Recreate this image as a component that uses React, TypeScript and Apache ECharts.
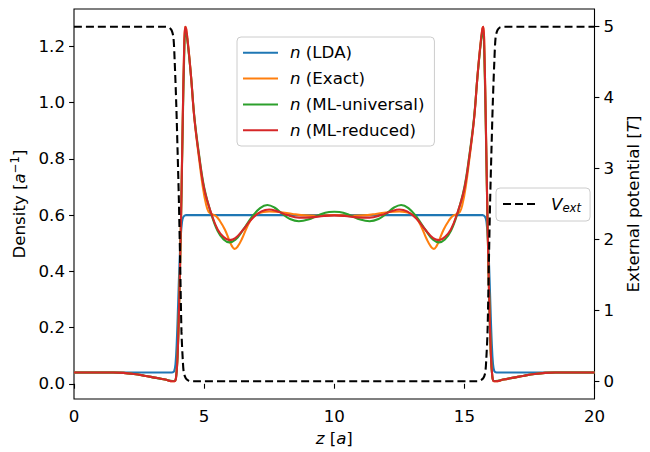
import React, { useEffect, useRef } from 'react';
import * as echarts from 'echarts';

const xTicks = [0, 5, 10, 15, 20];
const densityTicks = [0, 0.2, 0.4, 0.6, 0.8, 1.0, 1.2];
const potentialTicks = [0, 1, 2, 3, 4, 5];

const seriesNames = ['n (LDA)', 'n (Exact)', 'n (ML-universal)', 'n (ML-reduced)'];
const potentialName = 'Vext';

const ldaData = [
  [0, 0.04], [3.7, 0.04], [3.8, 0.041], [3.85, 0.045], [3.9, 0.07], [3.95, 0.15], [4.0, 0.28], [4.05, 0.42],
  [4.1, 0.52], [4.15, 0.575], [4.2, 0.593], [4.3, 0.6], [15.7, 0.6], [15.8, 0.593], [15.85, 0.575], [15.9, 0.52],
  [15.95, 0.42], [16.0, 0.28], [16.05, 0.15], [16.1, 0.07], [16.15, 0.045], [16.2, 0.041], [16.3, 0.04], [20, 0.04],
];

const exactData = [
  [0, 0.04], [1.5, 0.04], [1.9, 0.039], [2.3, 0.035], [2.7, 0.029], [3.1, 0.022], [3.5, 0.015], [3.8, 0.009],
  [3.88, 0.01], [3.93, 0.03], [3.98, 0.1], [4.03, 0.25], [4.08, 0.44], [4.13, 0.68], [4.18, 0.95], [4.23, 1.18],
  [4.27, 1.27], [4.31, 1.262], [4.4, 1.19], [4.5, 1.09], [4.63, 0.94], [4.82, 0.79], [4.95, 0.7], [5.07, 0.64],
  [5.17, 0.612], [5.3, 0.603], [5.45, 0.597], [5.6, 0.58], [5.8, 0.548], [5.97, 0.51], [6.08, 0.488], [6.17, 0.48],
  [6.28, 0.487], [6.45, 0.515], [6.65, 0.558], [6.85, 0.59], [7.1, 0.607], [7.5, 0.613], [7.9, 0.611], [8.4, 0.604],
  [8.9, 0.599], [9.4, 0.598], [10, 0.6], [10.6, 0.598], [11.1, 0.599], [11.6, 0.604], [12.1, 0.611], [12.5, 0.613],
  [12.9, 0.607], [13.15, 0.59], [13.35, 0.558], [13.55, 0.515], [13.72, 0.487], [13.83, 0.48], [13.92, 0.488],
  [14.03, 0.51], [14.2, 0.548], [14.4, 0.58], [14.55, 0.597], [14.7, 0.603], [14.83, 0.612], [14.93, 0.64],
  [15.05, 0.7], [15.18, 0.79], [15.37, 0.94], [15.5, 1.09], [15.6, 1.19], [15.69, 1.262], [15.73, 1.27],
  [15.77, 1.18], [15.82, 0.95], [15.87, 0.68], [15.92, 0.44], [15.97, 0.25], [16.02, 0.1], [16.07, 0.03],
  [16.12, 0.01], [16.2, 0.009], [16.5, 0.015], [16.9, 0.022], [17.3, 0.029], [17.7, 0.035], [18.1, 0.039],
  [18.5, 0.04], [20, 0.04],
];

const mlUniversalData = [
  [0, 0.04], [1.5, 0.04], [1.9, 0.039], [2.3, 0.035], [2.7, 0.029], [3.1, 0.022], [3.5, 0.015], [3.8, 0.01],
  [3.88, 0.011], [3.93, 0.03], [3.98, 0.1], [4.03, 0.25], [4.08, 0.44], [4.13, 0.67], [4.18, 0.93], [4.23, 1.15],
  [4.28, 1.25], [4.32, 1.245], [4.4, 1.185], [4.5, 1.09], [4.63, 0.945], [4.82, 0.805], [5.01, 0.695],
  [5.27, 0.605], [5.52, 0.543], [5.75, 0.513], [5.97, 0.503], [6.2, 0.512], [6.5, 0.548], [6.85, 0.595],
  [7.15, 0.625], [7.43, 0.636], [7.7, 0.627], [8.0, 0.605], [8.3, 0.586], [8.64, 0.578], [9.0, 0.584],
  [9.4, 0.6], [9.8, 0.611], [10, 0.612], [10.2, 0.611], [10.6, 0.6], [11.0, 0.584], [11.36, 0.578],
  [11.7, 0.586], [12.0, 0.605], [12.3, 0.627], [12.57, 0.636], [12.85, 0.625], [13.15, 0.595], [13.5, 0.548],
  [13.8, 0.512], [14.03, 0.503], [14.25, 0.513], [14.48, 0.543], [14.73, 0.605], [14.99, 0.695], [15.18, 0.805],
  [15.37, 0.945], [15.5, 1.09], [15.6, 1.185], [15.68, 1.245], [15.72, 1.25], [15.77, 1.15], [15.82, 0.93],
  [15.87, 0.67], [15.92, 0.44], [15.97, 0.25], [16.02, 0.1], [16.07, 0.03], [16.12, 0.011], [16.2, 0.01],
  [16.5, 0.015], [16.9, 0.022], [17.3, 0.029], [17.7, 0.035], [18.1, 0.039], [18.5, 0.04], [20, 0.04],
];

const mlReducedData = [
  [0, 0.04], [1.5, 0.04], [1.9, 0.039], [2.3, 0.035], [2.7, 0.029], [3.1, 0.022], [3.5, 0.015], [3.8, 0.009],
  [3.88, 0.01], [3.93, 0.03], [3.98, 0.1], [4.03, 0.25], [4.08, 0.44], [4.13, 0.68], [4.18, 0.95], [4.23, 1.18],
  [4.27, 1.27], [4.31, 1.262], [4.4, 1.19], [4.5, 1.09], [4.63, 0.94], [4.82, 0.8], [5.01, 0.69], [5.27, 0.607],
  [5.52, 0.549], [5.75, 0.522], [5.97, 0.511], [6.2, 0.518], [6.5, 0.548], [6.85, 0.588], [7.2, 0.613],
  [7.5, 0.62], [7.8, 0.614], [8.2, 0.6], [8.65, 0.591], [9.1, 0.592], [9.6, 0.597], [10, 0.599],
  [10.4, 0.597], [10.9, 0.592], [11.35, 0.591], [11.8, 0.6], [12.2, 0.614], [12.5, 0.62], [12.8, 0.613],
  [13.15, 0.588], [13.5, 0.548], [13.8, 0.518], [14.03, 0.511], [14.25, 0.522], [14.48, 0.549], [14.73, 0.607],
  [14.99, 0.69], [15.18, 0.8], [15.37, 0.94], [15.5, 1.09], [15.6, 1.19], [15.69, 1.262], [15.73, 1.27],
  [15.77, 1.18], [15.82, 0.95], [15.87, 0.68], [15.92, 0.44], [15.97, 0.25], [16.02, 0.1], [16.07, 0.03],
  [16.12, 0.01], [16.2, 0.009], [16.5, 0.015], [16.9, 0.022], [17.3, 0.029], [17.7, 0.035], [18.1, 0.039],
  [18.5, 0.04], [20, 0.04],
];

const vextData = [
  [0, 5], [3.5, 5], [3.65, 4.99], [3.75, 4.95], [3.82, 4.85], [3.87, 4.5], [3.93, 3.9], [3.98, 3.25],
  [4.03, 2.55], [4.08, 1.65], [4.13, 0.7], [4.18, 0.3], [4.22, 0.12], [4.3, 0.04], [4.4, 0.01], [4.5, 0],
  [15.5, 0], [15.6, 0.01], [15.72, 0.04], [15.8, 0.12], [15.84, 0.3], [15.89, 0.7], [15.94, 1.65],
  [15.99, 2.55], [16.04, 3.25], [16.09, 3.9], [16.15, 4.5], [16.2, 4.85], [16.27, 4.95], [16.37, 4.99],
  [16.52, 5], [20, 5],
];

const colors = ['#1f77b4', '#ff7f0e', '#2ca02c', '#d62728'];

export default function App() {
  const ref = useRef<HTMLDivElement>(null);
  useEffect(() => {
    const chart = echarts.init(ref.current!, null, { renderer: 'svg' });
    const font = 'DejaVu Sans';
    const fs = 16.67;
    const tickStyle = { color: '#000', width: 1.1 };
    const labelStyle = { fontSize: fs, color: '#000', fontFamily: font };
    const italic = { fontStyle: 'italic', fontSize: fs, fontFamily: font, color: '#000' };
    const densSeries = [ldaData, exactData, mlUniversalData, mlReducedData].map((d, i) => ({
      name: seriesNames[i],
      type: 'line',
      data: d,
      symbol: 'none',
      smooth: 0.4,
      yAxisIndex: 0,
      lineStyle: { color: colors[i], width: 2.08 },
      itemStyle: { color: colors[i] },
    }));
    chart.setOption({
      animation: false,
      backgroundColor: '#ffffff',
      textStyle: { fontFamily: font },
      grid: {
        left: 74, right: 53, top: 9, bottom: 53, show: true,
        borderColor: '#000', borderWidth: 1.1, backgroundColor: 'transparent',
      },
      xAxis: {
        type: 'value', min: 0, max: 20, interval: 5,
        axisLine: { show: false },
        axisTick: { show: true, length: 4.9, lineStyle: tickStyle, customValues: xTicks },
        axisLabel: { ...labelStyle, margin: 9, customValues: xTicks },
        splitLine: { show: false },
        name: '{i|z} [{i|a}]', nameLocation: 'middle', nameGap: 31,
        nameTextStyle: { ...labelStyle, rich: { i: italic } },
      },
      yAxis: [
        {
          type: 'value', min: -0.054, max: 1.333, position: 'left',
          axisLine: { show: false },
          axisTick: { show: true, length: 4.9, lineStyle: tickStyle, customValues: densityTicks },
          axisLabel: { ...labelStyle, margin: 9, customValues: densityTicks, formatter: (v: number) => v.toFixed(1) },
          splitLine: { show: false },
          name: 'Density [{i|a}{sup|−1}]', nameLocation: 'middle', nameGap: 42,
          nameTextStyle: {
            ...labelStyle,
            rich: { i: italic, sup: { fontSize: 11.7, fontFamily: font, color: '#000', padding: [0, 0, 8, 0] } },
          },
        },
        {
          type: 'value', min: -0.25, max: 5.25, position: 'right',
          axisLine: { show: false },
          axisTick: { show: true, length: 4.9, lineStyle: tickStyle, customValues: potentialTicks },
          axisLabel: { ...labelStyle, margin: 9, customValues: potentialTicks, formatter: (v: number) => String(v) },
          splitLine: { show: false },
          name: 'External potential [{i|T}]', nameLocation: 'middle', nameGap: 27,
          nameTextStyle: { ...labelStyle, rich: { i: italic } },
        },
      ],
      legend: [
        {
          data: seriesNames,
          orient: 'vertical', left: 237, top: 37,
          itemWidth: 35, itemHeight: 12, itemGap: 8.8,
          padding: [7.3, 10, 7.3, 5],
          selectedMode: false,
          itemStyle: { opacity: 0 },
          backgroundColor: 'rgba(255,255,255,0.8)', borderColor: '#cccccc', borderWidth: 1, borderRadius: 4,
          formatter: (name: string) => '{i|n}' + name.slice(1),
          textStyle: {
            ...labelStyle, lineHeight: 17, padding: [0, 0, 0, 7],
            rich: { i: { ...italic, lineHeight: 17 } },
          },
        },
        {
          data: [potentialName],
          orient: 'vertical', left: 496, top: 188,
          itemWidth: 32, itemHeight: 12,
          padding: [7.5, 9, 7.5, 6],
          selectedMode: false,
          itemStyle: { opacity: 0 },
          backgroundColor: 'rgba(255,255,255,0.8)', borderColor: '#cccccc', borderWidth: 1, borderRadius: 4,
          formatter: () => '{v|V}{s|ext}',
          textStyle: {
            ...labelStyle, lineHeight: 17, padding: [0, 0, 0, 11],
            rich: {
              v: { ...italic, lineHeight: 17 },
              s: { fontStyle: 'italic', fontSize: 11.7, fontFamily: font, color: '#000', padding: [7, 0, 0, 0] },
            },
          },
        },
      ],
      series: [
        ...densSeries,
        {
          name: potentialName,
          type: 'line',
          data: vextData,
          symbol: 'none',
          smooth: 0.3,
          yAxisIndex: 1,
          lineStyle: { color: '#000', width: 2.08, type: [8, 4] },
          itemStyle: { color: '#000' },
        },
      ],
    });
    return () => chart.dispose();
  }, []);
  return <div ref={ref} style={{ position: 'fixed', left: 0, top: 0, width: 650, height: 452 }} />;
}
